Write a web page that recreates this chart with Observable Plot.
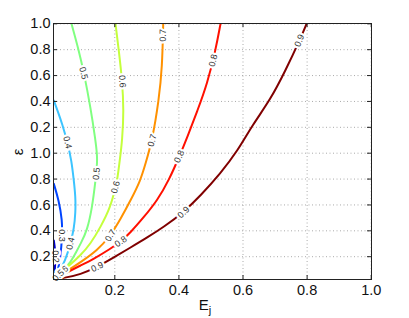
<!DOCTYPE html>
<html><head><meta charset="utf-8">
<script src="https://cdn.jsdelivr.net/npm/d3@7"></script>
<script src="https://cdn.jsdelivr.net/npm/@observablehq/plot@0.6"></script>
<style>html,body{margin:0;padding:0;background:#fff;overflow:hidden;}</style>
</head><body><div id="chart"></div>
<script>
// contour levels and their colours (jet-like)
const levels = [0.2, 0.3, 0.4, 0.5, 0.6, 0.7, 0.8, 0.9];
const levelColors = ["#0000c8", "#0044ff", "#3cc4ff", "#80ff80", "#c4ff3c", "#ff9100", "#ff1000", "#800000"];

// axis ticks
const xTicks = [0.2, 0.4, 0.6, 0.8, 1.0];
const yTickPositions = [1, 2, 3, 4, 5, 6, 7, 8, 9, 10];
const yTickLabels = ["0.2", "0.4", "0.6", "0.8", "1.0", "0.2", "0.4", "0.6", "0.8", "1.0"];

// contour lines: [E_j, position on ε axis]
const contour02 = [[0.0097,0.157],[0.0134,0.544],[0.0150,1.008],[0.0134,1.317],[0.0097,1.626]];
const contour03 = [[0.0097,0.157],[0.0203,0.339],[0.0306,0.980],[0.0359,1.819],[0.0359,2.399],[0.0253,3.172],[0.0097,3.817]];
const contour04 = [[0.0097,0.13],[0.0203,0.273],[0.0462,0.853],[0.0618,1.510],[0.0727,2.090],[0.0774,2.708],[0.0774,3.326],[0.0721,3.944],[0.0649,4.717],[0.0524,5.413],[0.0359,6.136],[0.0212,6.650],[0.0097,7.036]];
const contour05 = [[0.0097,0.13],[0.0243,0.312],[0.0409,0.505],[0.0618,0.776],[0.0805,1.200],[0.0930,1.498],[0.1139,2.012],[0.1295,2.912],[0.1398,3.944],[0.1445,4.524],[0.1451,4.911],[0.1398,5.490],[0.1242,6.777],[0.1033,8.130],[0.0877,8.968],[0.0649,10.0]];
const contour06 = [[0.0097,0.13],[0.0306,0.389],[0.0515,0.594],[0.0930,1.046],[0.1242,1.498],[0.1554,2.140],[0.1866,2.912],[0.2022,3.685],[0.2075,3.944],[0.2162,4.795],[0.2231,5.490],[0.2281,6.650],[0.2231,7.809],[0.2125,8.968],[0.2022,10.0]];
const contour07 = [[0.0097,0.13],[0.0618,0.532],[0.0930,0.787],[0.1451,1.239],[0.1866,1.819],[0.2178,2.457],[0.2490,3.172],[0.2802,3.944],[0.2958,4.601],[0.3167,5.490],[0.3373,7.036],[0.3479,8.323],[0.3510,10.0]];
const contour08 = [[0.0097,0.13],[0.0515,0.401],[0.0930,0.660],[0.1345,0.918],[0.1866,1.305],[0.2184,1.587],[0.2490,1.935],[0.2905,2.526],[0.3323,3.172],[0.3685,3.944],[0.4050,4.976],[0.4259,5.618],[0.4580,6.650],[0.4883,7.681],[0.5142,8.968],[0.5298,10.0]];
const contour09 = [[0.0097,0.13],[0.0409,0.177],[0.0930,0.312],[0.1451,0.602],[0.1969,0.969],[0.2490,1.355],[0.3011,1.742],[0.3529,2.148],[0.4144,2.719],[0.4672,3.357],[0.5298,4.223],[0.5829,5.085],[0.6303,6.109],[0.6858,7.075],[0.7326,8.195],[0.7794,9.432],[0.7981,10.0]];
const contours = [contour02, contour03, contour04, contour05, contour06, contour07, contour08, contour09];

// inline contour labels: [level, E_j, position on ε axis]
const contourLabels = [
  [0.9,0.776,9.355],[0.9,0.4144,2.719],[0.9,0.1451,0.602],
  [0.8,0.507,8.58],[0.8,0.401,4.87],[0.8,0.2184,1.587],
  [0.7,0.350,9.55],[0.7,0.3167,5.49],[0.7,0.1866,1.819],
  [0.6,0.2231,7.78],[0.6,0.2022,3.685],[0.6,0.036,0.44],
  [0.5,0.1025,8.09],[0.5,0.1429,4.21],[0.5,0.024,0.27],
  [0.4,0.0524,5.413],[0.4,0.0618,1.510],
  [0.3,0.0359,1.819],
  [0.2,0.0150,1.008]
];

const W = 409, H = 318;
const mL = 53, mR = 38, mT = 23, mB = 39;
const xDomain = [0.0087, 1.0009];
const yDomain = [0.119, 10.012];
const xS = d3.scaleLinear().domain(xDomain).range([mL, W - mR]);
const yS = d3.scaleLinear().domain(yDomain).range([H - mB, mT]);
const pw = W - mL - mR, ph = H - mT - mB;

const lineRows = [];
contours.forEach((pts, i) => pts.forEach(([x, y]) => lineRows.push({level: levels[i], x, y})));

const labelRows = contourLabels.map(([level, x, y]) => {
  const pts = contours[levels.indexOf(level)];
  let best = 0, bd = Infinity;
  for (let i = 0; i < pts.length - 1; i++) {
    const mx = (xS(pts[i][0]) + xS(pts[i+1][0])) / 2, my = (yS(pts[i][1]) + yS(pts[i+1][1])) / 2;
    const d = (mx - xS(x)) ** 2 + (my - yS(y)) ** 2;
    if (d < bd) { bd = d; best = i; }
  }
  const a = pts[best], b = pts[best + 1];
  let ang = Math.atan2(yS(b[1]) - yS(a[1]), xS(b[0]) - xS(a[0])) * 180 / Math.PI;
  if (ang > 90) ang -= 180;
  if (ang <= -90) ang += 180;
  return {level, x, y, ang, text: d3.format(".1f")(level)};
});

const chart = Plot.plot({
  width: W, height: H,
  marginLeft: mL, marginRight: mR, marginTop: mT, marginBottom: mB,
  style: {fontFamily: "'Liberation Sans', Arial, sans-serif", fontSize: "14.5px", background: "#fff", color: "#111"},
  x: {domain: xDomain, axis: null},
  y: {domain: yDomain, axis: null},
  color: {type: "ordinal", domain: levels, range: levelColors},
  marks: [
    Plot.gridX(xTicks, {stroke: "#aaa", strokeOpacity: 1, strokeDasharray: "1,2.5"}),
    Plot.gridY(yTickPositions, {stroke: "#aaa", strokeOpacity: 1, strokeDasharray: "1,2.5"}),
    Plot.line(lineRows, {x: "x", y: "y", z: "level", stroke: "level", strokeWidth: 2, curve: "basis", clip: true}),
    Plot.text(labelRows, {x: "x", y: "y", text: "text", rotate: "ang", fontSize: 9, fill: "#333", stroke: "white", strokeWidth: 4.5, fontFamily: "'Liberation Sans', Arial, sans-serif"}),
    Plot.tickX(xTicks, {x: d => d, stroke: "#222", insetTop: ph - 4}),
    Plot.tickX(xTicks, {x: d => d, stroke: "#222", insetBottom: ph - 4}),
    Plot.tickY(yTickPositions, {y: d => d, stroke: "#222", insetRight: pw - 4}),
    Plot.tickY(yTickPositions, {y: d => d, stroke: "#222", insetLeft: pw - 4}),
    Plot.frame({stroke: "#222"}),
    Plot.axisX(xTicks, {tickSize: 0, tickPadding: 5, tickFormat: d3.format(".1f"), label: null}),
    Plot.axisY(yTickPositions, {tickSize: 0, tickPadding: 3, tickFormat: (d, i) => yTickLabels[yTickPositions.indexOf(d)], label: null})
  ]
});
document.getElementById("chart").appendChild(chart);

const svg = d3.select(chart);
const xl = svg.append("text").attr("x", 205).attr("y", 310)
  .attr("font-family", "'Liberation Sans', Arial, sans-serif").attr("font-size", 15).attr("fill", "#111");
xl.append("tspan").text("E");
xl.append("tspan").attr("dy", 4).attr("font-size", 11).text("j");
svg.append("text").attr("transform", "translate(23,152) rotate(-90)").attr("text-anchor", "middle")
  .attr("font-family", "'Liberation Sans', Arial, sans-serif").attr("font-size", 15).attr("fill", "#111").text("ε");
</script>
</body></html>
